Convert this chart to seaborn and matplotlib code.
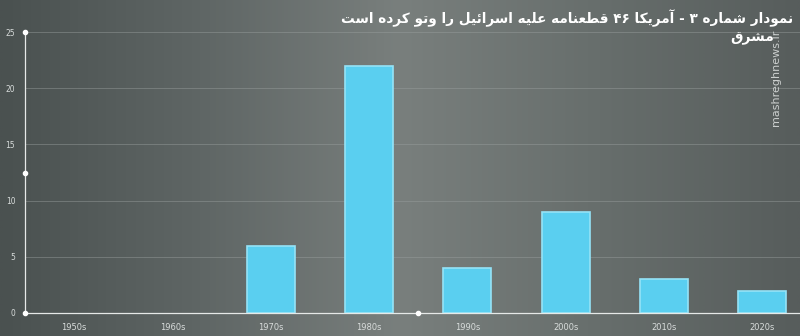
import numpy as np
import pandas as pd
import matplotlib
matplotlib.use("Agg")
import matplotlib.pyplot as plt
import seaborn as sns
from matplotlib.colors import LinearSegmentedColormap

# ---- data ----
decades = ["1950s", "1960s", "1970s", "1980s", "1990s", "2000s", "2010s", "2020s"]
vetoes = [0, 0, 6, 22, 4, 9, 3, 2]
y_ticks = [0, 5, 10, 15, 20, 25]
title_text = "نمودار شماره ۳ - آمریکا ۴۶ قطعنامه علیه اسرائیل را وتو کرده است"
watermark_text = "mashreghnews.ir"
logo_text = "مشرق"

# ---- minimal Persian shaping (presentation forms) + visual ordering ----
FORMS = {  # isolated, final, initial, medial
    "ا": ("\uFE8D", "\uFE8E", None, None),
    "آ": ("\uFE81", "\uFE82", None, None),
    "د": ("\uFEA9", "\uFEAA", None, None),
    "ر": ("\uFEAD", "\uFEAE", None, None),
    "و": ("\uFEED", "\uFEEE", None, None),
    "ت": ("\uFE95", "\uFE96", "\uFE97", "\uFE98"),
    "س": ("\uFEB1", "\uFEB2", "\uFEB3", "\uFEB4"),
    "ش": ("\uFEB5", "\uFEB6", "\uFEB7", "\uFEB8"),
    "ط": ("\uFEC1", "\uFEC2", "\uFEC3", "\uFEC4"),
    "ع": ("\uFEC9", "\uFECA", "\uFECB", "\uFECC"),
    "ق": ("\uFED5", "\uFED6", "\uFED7", "\uFED8"),
    "ل": ("\uFEDD", "\uFEDE", "\uFEDF", "\uFEE0"),
    "م": ("\uFEE1", "\uFEE2", "\uFEE3", "\uFEE4"),
    "ن": ("\uFEE5", "\uFEE6", "\uFEE7", "\uFEE8"),
    "ه": ("\uFEE9", "\uFEEA", "\uFEEB", "\uFEEC"),
    "ئ": ("\uFE89", "\uFE8A", "\uFE8B", "\uFE8C"),
    "ی": ("\uFBFC", "\uFBFD", "\uFBFE", "\uFBFF"),
    "ک": ("\uFB8E", "\uFB8F", "\uFB90", "\uFB91"),
}


def dual(c):
    return c in FORMS and FORMS[c][2] is not None


def shape(s):
    out = []
    for i, c in enumerate(s):
        if c not in FORMS:
            out.append(c)
            continue
        prev_c = s[i - 1] if i > 0 else ""
        next_c = s[i + 1] if i + 1 < len(s) else ""
        pj = dual(prev_c)
        nj = dual(c) and next_c in FORMS
        iso, fin, ini, med = FORMS[c]
        if pj and nj:
            out.append(med)
        elif pj:
            out.append(fin)
        elif nj:
            out.append(ini)
        else:
            out.append(iso)
    shaped = "".join(out)
    # visual order: reverse, keeping digit runs left-to-right
    rev = shaped[::-1]
    res, run = [], []
    for ch in rev:
        if "\u06F0" <= ch <= "\u06F9" or ch.isdigit():
            run.append(ch)
        else:
            if run:
                res.extend(run[::-1])
                run = []
            res.append(ch)
    if run:
        res.extend(run[::-1])
    return "".join(res)


df = pd.DataFrame({"decade": decades, "count": vetoes})

sns.set_theme(style="white")
plt.rcParams["font.family"] = ["DejaVu Sans"]

fig = plt.figure(figsize=(8, 3.36), dpi=100)

# background gradient
bg = fig.add_axes([0, 0, 1, 1], zorder=-10)
bg_cmap = LinearSegmentedColormap.from_list(
    "bg", [(0.0, "#4a5150"), (0.25, "#5f6665"), (0.5, "#797f7d"), (0.75, "#676e6c"), (1.0, "#575d5c")])
xx = np.linspace(0, 1, 400)
yy = np.linspace(0, 1, 200)
X, Y = np.meshgrid(xx, yy)
bg.imshow(X, cmap=bg_cmap, aspect="auto", extent=[0, 1, 0, 1], origin="lower")
bg.set_axis_off()

ax = fig.add_axes([25 / 800, 1 - 313 / 336, 775 / 800, (313 - 32) / 336])
ax.set_facecolor("none")

sns.barplot(data=df, x="decade", y="count", ax=ax, color="#5acff0",
            width=0.49, saturation=1, edgecolor="#95e3f7", linewidth=1.2)
for p in ax.patches:
    if p.get_height() == 0:
        p.set_visible(False)

ax.set_xlim(-0.5, -0.5 + 775 / 98.3)
ax.set_ylim(0, 25)
ax.set_yticks(y_ticks)
ax.set_yticklabels([str(t) for t in y_ticks], color="#d8dcdb", fontsize=6, fontstretch="condensed")
ax.set_xticks(range(len(decades)))
ax.set_xticklabels(decades, color="#d8dcdb", fontsize=6)
ax.tick_params(axis="both", length=0, pad=7)
ax.set_xlabel("")
ax.set_ylabel("")

for t in y_ticks[1:]:
    ax.axhline(t, color="#9aa09f", lw=0.7, alpha=0.45, zorder=0)

for side in ["top", "right"]:
    ax.spines[side].set_visible(False)
for side in ["left", "bottom"]:
    ax.spines[side].set_color("#e6e9e8")
    ax.spines[side].set_linewidth(0.9)

# small white dots on the axes
ax.plot([-0.5, -0.5, -0.5, 3.5], [0, 12.5, 25, 0], "o", color="white", ms=3,
        clip_on=False, zorder=5)

# title
fig.text(0.991, 1 - 18 / 336, shape(title_text), ha="right", va="center",
         fontsize=9.8, fontweight="bold", color="white", family=["DejaVu Sans"])

# watermark
fig.text(776 / 800, 1 - 78 / 336, watermark_text, rotation=90, ha="center", va="center",
         fontsize=8, color="#e0e3e2", alpha=0.85)
fig.text(752 / 800, 1 - 38 / 336, shape(logo_text), ha="center", va="center",
         fontsize=10, color="white", fontweight="bold")

fig.savefig("out.png", dpi=100)
